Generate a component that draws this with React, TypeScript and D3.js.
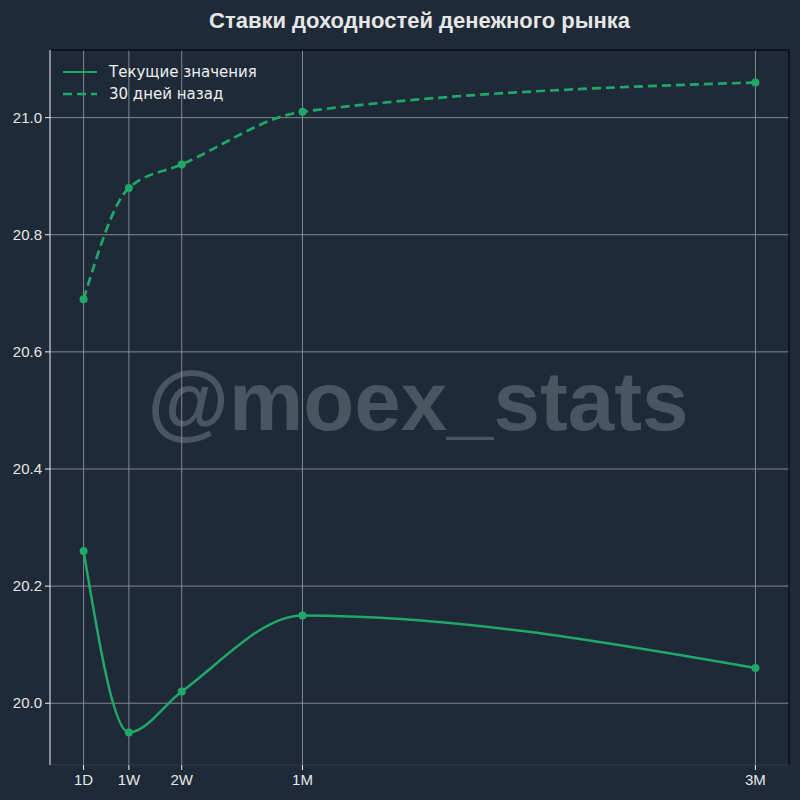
import React from "react";
import * as d3 from "d3";

const tenorLabels = ["1D", "1W", "2W", "1M", "3M"];
const tenorDays = [1, 7, 14, 30, 90];
const currentValues = [20.26, 19.95, 20.02, 20.15, 20.06];
const pastValues = [20.69, 20.88, 20.92, 21.01, 21.06];
const yTicks = [20.0, 20.2, 20.4, 20.6, 20.8, 21.0];
const seriesNames = ["Текущие значения", "30 дней назад"];

const W = 800, H = 800;
const L = 50, R = 789, T = 50, B = 765;
const BG = "#1e2a38";
const GREEN = "#1fa866";

export default function App() {
  const allY = [...currentValues, ...pastValues];
  const yMin = d3.min(allY)!, yMax = d3.max(allY)!;
  const ym = (yMax - yMin) * 0.05;
  const xm = (d3.max(tenorDays)! - d3.min(tenorDays)!) * 0.05;
  const x = d3.scaleLinear().domain([d3.min(tenorDays)! - xm, d3.max(tenorDays)! + xm]).range([L, R]);
  const y = d3.scaleLinear().domain([yMin - ym, yMax + ym]).range([B, T]);
  const line = d3.line<number>().x((_, i) => x(tenorDays[i])).y((d) => y(d)).curve(d3.curveMonotoneX);

  return (
    <svg width={W} height={H} style={{ display: "block", position: "absolute", left: 0, top: 0 }}>
      <rect x={0} y={0} width={W} height={H} fill={BG} />
      <text x={(L + R) / 2} y={28} textAnchor="middle" fontFamily="Liberation Sans, Arial, sans-serif" fontWeight="bold" fontSize={22} fill="#e6e6e6">
        Ставки доходностей денежного рынка
      </text>
      <text x={418} y={430} textAnchor="middle" fontFamily="Liberation Sans, Arial, sans-serif" fontWeight="bold" fontSize={83.5} fill="#4a5562">
        @moex_stats
      </text>
      {/* grid */}
      {tenorDays.map((d, i) => (
        <line key={"gx" + i} x1={x(d)} x2={x(d)} y1={T} y2={B} stroke="#8c929a" strokeWidth={0.9} />
      ))}
      {yTicks.map((v, i) => (
        <line key={"gy" + i} x1={L} x2={R} y1={y(v)} y2={y(v)} stroke="#8c929a" strokeWidth={0.9} />
      ))}
      {/* spines */}
      <line x1={L} x2={R} y1={T} y2={T} stroke="#000000" strokeWidth={1} />
      <line x1={R} x2={R} y1={T} y2={B} stroke="#000000" strokeWidth={1} />
      <line x1={L} x2={R} y1={B} y2={B} stroke="#2f3b48" strokeWidth={1.2} />
      <line x1={L} x2={L} y1={T} y2={B} stroke="#f0f0f0" strokeWidth={1} />
      {/* y ticks */}
      {yTicks.map((v, i) => (
        <g key={"yt" + i}>
          <line x1={L - 5} x2={L} y1={y(v)} y2={y(v)} stroke="#f0f0f0" strokeWidth={1} />
          <text x={L - 8} y={y(v)} dy="0.35em" textAnchor="end" fontFamily="Liberation Sans, Arial, sans-serif" fontSize={15} fill="#e6e6e6">
            {v.toFixed(1)}
          </text>
        </g>
      ))}
      {/* x ticks */}
      {tenorDays.map((d, i) => (
        <g key={"xt" + i}>
          <line x1={x(d)} x2={x(d)} y1={B} y2={B + 5} stroke="#f0f0f0" strokeWidth={1} />
          <text x={x(d)} y={B + 20} textAnchor="middle" fontFamily="Liberation Sans, Arial, sans-serif" fontSize={15} fill="#e6e6e6">
            {tenorLabels[i]}
          </text>
        </g>
      ))}
      {/* lines */}
      <path d={line(currentValues)!} fill="none" stroke={GREEN} strokeWidth={2.5} />
      <path d={line(pastValues)!} fill="none" stroke={GREEN} strokeWidth={2.7} strokeDasharray="9,5" />
      {currentValues.map((v, i) => (
        <circle key={"c" + i} cx={x(tenorDays[i])} cy={y(v)} r={4} fill={GREEN} />
      ))}
      {pastValues.map((v, i) => (
        <circle key={"p" + i} cx={x(tenorDays[i])} cy={y(v)} r={4} fill={GREEN} />
      ))}
      {/* legend */}
      <line x1={63} x2={97} y1={72} y2={72} stroke={GREEN} strokeWidth={2.2} />
      <line x1={63} x2={97} y1={94} y2={94} stroke={GREEN} strokeWidth={2.6} strokeDasharray="9,5" />
      <text x={109} y={72} dy="0.35em" fontFamily="DejaVu Sans, sans-serif" fontSize={15} fill="#f0f0f0">{seriesNames[0]}</text>
      <text x={109} y={94} dy="0.35em" fontFamily="DejaVu Sans, sans-serif" fontSize={15} fill="#f0f0f0">{seriesNames[1]}</text>
    </svg>
  );
}
